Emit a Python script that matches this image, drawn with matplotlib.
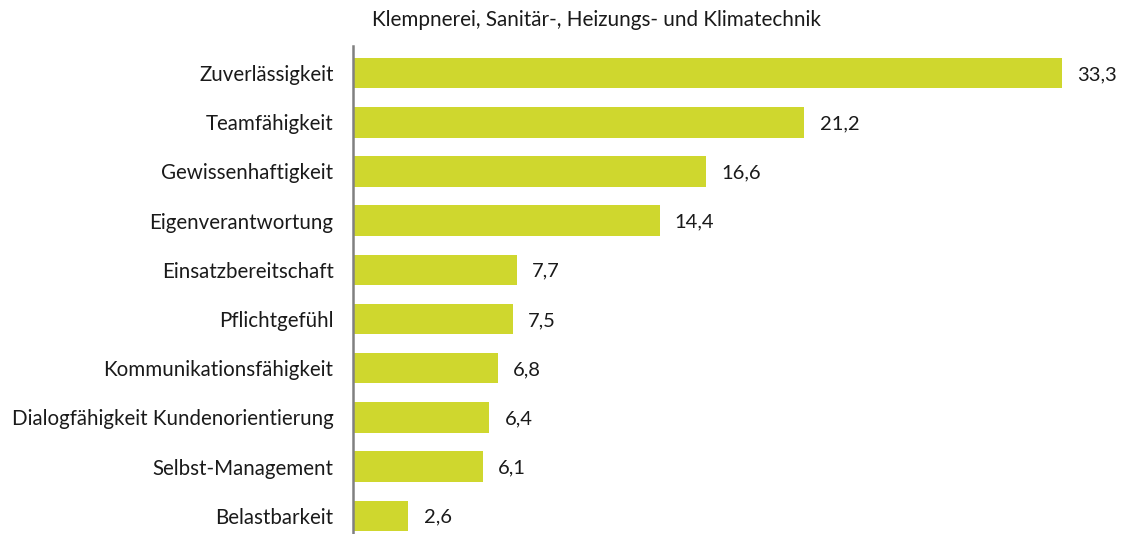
import matplotlib
matplotlib.use("Agg")
import matplotlib.pyplot as plt

categories = ["Zuverlässigkeit", "Teamfähigkeit", "Gewissenhaftigkeit", "Eigenverantwortung",
              "Einsatzbereitschaft", "Pflichtgefühl", "Kommunikationsfähigkeit",
              "Dialogfähigkeit Kundenorientierung", "Selbst-Management", "Belastbarkeit"]
values = [33.3, 21.2, 16.6, 14.4, 7.7, 7.5, 6.8, 6.4, 6.1, 2.6]
title = "Klempnerei, Sanitär-, Heizungs- und Klimatechnik"

plt.rcParams['font.family'] = ['Lato', 'DejaVu Sans']

fig = plt.figure(figsize=(11.23, 5.34), dpi=100)
ax = fig.add_axes([353/1123, 0, 1 - 353/1123, 1 - 46/534])

pos = list(range(len(categories)))
ax.barh(pos, values, height=0.62, color="#cfd72e")
for p, v in zip(pos, values):
    ax.annotate(f"{v:.1f}".replace(".", ","), (v, p), xytext=(11, 0), textcoords="offset points",
                va="center_baseline", ha="left", fontsize=14.5, color="#1a1a1a")

ax.set_yticks(pos)
ax.set_yticklabels(categories, fontsize=14.8, color="#1a1a1a", va="center_baseline")
ax.tick_params(axis="y", length=0, pad=14)
ax.set_xticks([])
ax.set_xlim(0, 770/21.29)
ax.set_ylim(9.37, -0.55)
for s in ["top", "right", "bottom"]:
    ax.spines[s].set_visible(False)
ax.spines["left"].set_color("#808080")
ax.spines["left"].set_linewidth(1.8)

fig.text(596/1123, 1 - 20/534, title, ha="center", va="center", fontsize=14.9, color="#1a1a1a")

fig.savefig("out.png", dpi=100)
